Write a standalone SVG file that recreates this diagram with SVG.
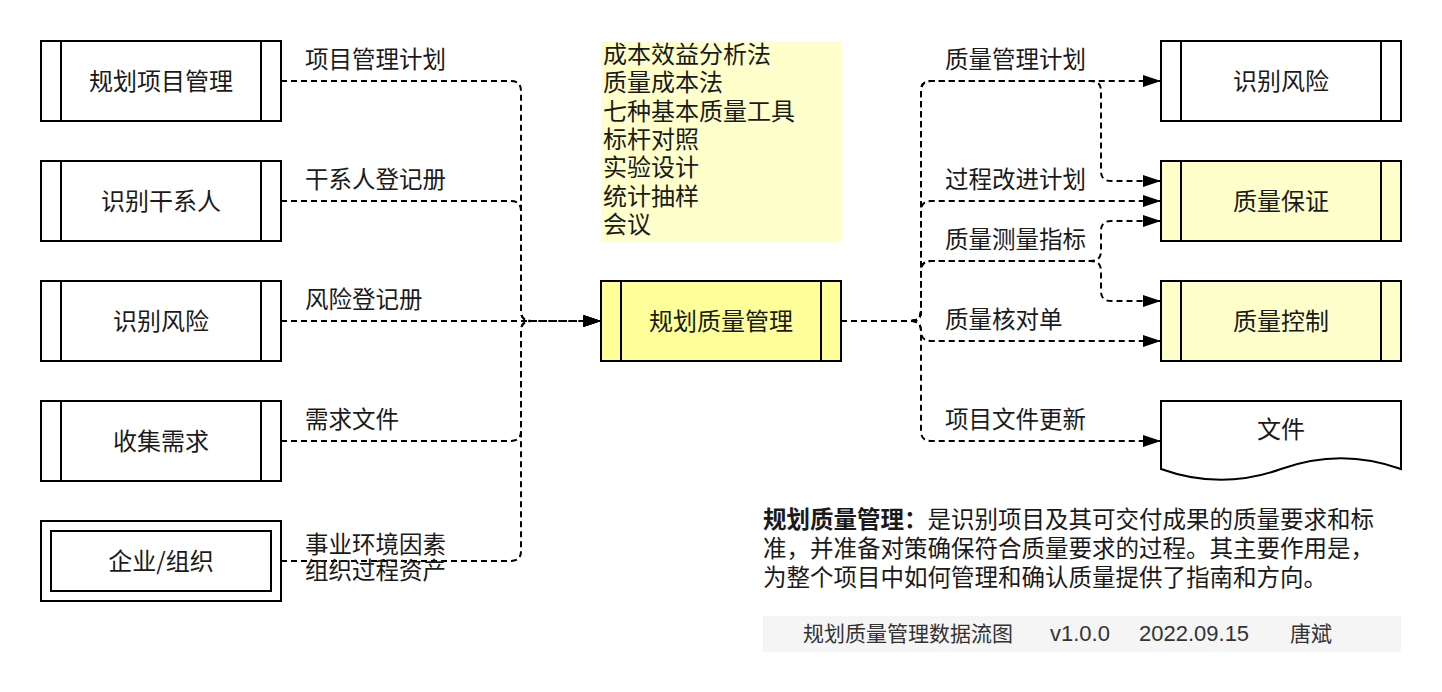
<svg xmlns="http://www.w3.org/2000/svg" width="1442" height="692" viewBox="0 0 1442 692">
<style>
text{font-family:"Noto Sans CJK SC","Liberation Sans",sans-serif;fill:#1a1a1a;font-size:24px}
.box{fill:#fff;stroke:#000;stroke-width:2}
.ylw{fill:#ffff99;stroke:#000;stroke-width:2}
.lyl{fill:#ffffcc;stroke:#000;stroke-width:2}
.dv{stroke:#000;stroke-width:2;fill:none}
.c{text-anchor:middle}
.e{fill:none;stroke:#000;stroke-width:2;stroke-dasharray:6 4}
.lb{font-size:23.5px}
.ft{font-size:21px;fill:#333}
.fl{font-family:"Liberation Sans","Noto Sans CJK SC",sans-serif;font-size:22px;fill:#333}
</style>
<defs>
<marker id="ar" markerUnits="userSpaceOnUse" markerWidth="18" markerHeight="12" refX="18" refY="6" orient="auto" viewBox="0 0 18 12">
<path d="M0,0 L18,6 L0,12 Z" fill="#000" stroke="none"/>
</marker>
</defs>
<rect width="1442" height="692" fill="#fff"/>

<g id="connectors">
<path class="e" d="M281,81 H511 Q521,81 521,91 V311 Q521,321 531,321 H601" marker-end="url(#ar)"/>
<path class="e" d="M281,201 H511 Q521,201 521,211 V311 Q521,321 531,321 H601" marker-end="url(#ar)"/>
<path class="e" d="M281,321 H601" marker-end="url(#ar)"/>
<path class="e" d="M281,441 H511 Q521,441 521,431 V331 Q521,321 531,321 H601" marker-end="url(#ar)"/>
<path class="e" d="M281,561 H511 Q521,561 521,551 V331 Q521,321 531,321 H601" marker-end="url(#ar)"/>

<path class="e" d="M841,321 H911 Q921,321 921,311 V91 Q921,81 931,81 H1161" marker-end="url(#ar)"/>
<path class="e" d="M841,321 H911 Q921,321 921,311 V91 Q921,81 931,81 H1091 Q1101,81 1101,91 V171 Q1101,181 1111,181 H1161" marker-end="url(#ar)"/>
<path class="e" d="M841,321 H911 Q921,321 921,311 V211 Q921,201 931,201 H1161" marker-end="url(#ar)"/>
<path class="e" d="M841,321 H911 Q921,321 921,311 V271 Q921,261 931,261 H1091 Q1101,261 1101,251 V231 Q1101,221 1111,221 H1161" marker-end="url(#ar)"/>
<path class="e" d="M841,321 H911 Q921,321 921,311 V271 Q921,261 931,261 H1091 Q1101,261 1101,271 V291 Q1101,301 1111,301 H1161" marker-end="url(#ar)"/>
<path class="e" d="M841,321 H911 Q921,321 921,331 Q921,341 931,341 H1161" marker-end="url(#ar)"/>
<path class="e" d="M841,321 H911 Q921,321 921,331 V431 Q921,441 931,441 H1161" marker-end="url(#ar)"/>

<text class="lb" x="305" y="68">项目管理计划</text>
<text class="lb" x="305" y="188">干系人登记册</text>
<text class="lb" x="305" y="308">风险登记册</text>
<text class="lb" x="305" y="428">需求文件</text>
<text class="lb" x="305" y="553">事业环境因素</text>
<text class="lb" x="305" y="579">组织过程资产</text>
<text class="lb" x="945" y="68">质量管理计划</text>
<text class="lb" x="945" y="188">过程改进计划</text>
<text class="lb" x="945" y="248">质量测量指标</text>
<text class="lb" x="945" y="328">质量核对单</text>
<text class="lb" x="945" y="428">项目文件更新</text>
</g>

<g id="n1"><rect class="box" x="41" y="41" width="240" height="80"/><path class="dv" d="M61,41 V121 M261,41 V121"/><text class="c" x="161" y="90">规划项目管理</text></g>
<g id="n2"><rect class="box" x="41" y="161" width="240" height="80"/><path class="dv" d="M61,161 V241 M261,161 V241"/><text class="c" x="161" y="210">识别干系人</text></g>
<g id="n3"><rect class="box" x="41" y="281" width="240" height="80"/><path class="dv" d="M61,281 V361 M261,281 V361"/><text class="c" x="161" y="330">识别风险</text></g>
<g id="n4"><rect class="box" x="41" y="401" width="240" height="80"/><path class="dv" d="M61,401 V481 M261,401 V481"/><text class="c" x="161" y="450">收集需求</text></g>
<g id="n5"><rect class="box" x="41" y="521" width="240" height="80"/><rect class="box" x="51" y="531" width="220" height="60"/><text class="c" x="161" y="570">企业/组织</text></g>

<g id="tools"><rect x="601" y="41" width="240" height="200" fill="#ffffcc"/>
<text x="603" y="63">成本效益分析法</text>
<text x="603" y="91.3">质量成本法</text>
<text x="603" y="119.7">七种基本质量工具</text>
<text x="603" y="148">标杆对照</text>
<text x="603" y="176.3">实验设计</text>
<text x="603" y="204.7">统计抽样</text>
<text x="603" y="233">会议</text>
</g>

<g id="center"><rect class="ylw" x="601" y="281" width="240" height="80"/><path class="dv" d="M621,281 V361 M821,281 V361"/><text class="c" x="721" y="330">规划质量管理</text></g>

<g id="r1"><rect class="box" x="1161" y="41" width="240" height="80"/><path class="dv" d="M1181,41 V121 M1381,41 V121"/><text class="c" x="1281" y="90">识别风险</text></g>
<g id="r2"><rect class="lyl" x="1161" y="161" width="240" height="80"/><path class="dv" d="M1181,161 V241 M1381,161 V241"/><text class="c" x="1281" y="210">质量保证</text></g>
<g id="r3"><rect class="lyl" x="1161" y="281" width="240" height="80"/><path class="dv" d="M1181,281 V361 M1381,281 V361"/><text class="c" x="1281" y="330">质量控制</text></g>
<g id="r4"><path class="box" d="M1161,401 H1401 V469 Q1341,447.4 1281,469 Q1221,490.6 1161,469 Z"/><text class="c" x="1281" y="438">文件</text></g>

<g id="desc">
<text class="lb" x="763" y="528"><tspan font-weight="bold">规划质量管理：</tspan>是识别项目及其可交付成果的质量要求和标</text>
<text class="lb" x="763" y="557">准，并准备对策确保符合质量要求的过程。其主要作用是，</text>
<text class="lb" x="763" y="586">为整个项目中如何管理和确认质量提供了指南和方向。</text>
</g>

<g id="footer">
<rect x="763" y="616" width="638" height="36" fill="#f5f5f5"/>
<text class="ft" x="803" y="641">规划质量管理数据流图</text>
<text class="fl" x="1050" y="641">v1.0.0</text>
<text class="fl" x="1139" y="641">2022.09.15</text>
<text class="ft" x="1290" y="641">唐斌</text>
</g>
</svg>
